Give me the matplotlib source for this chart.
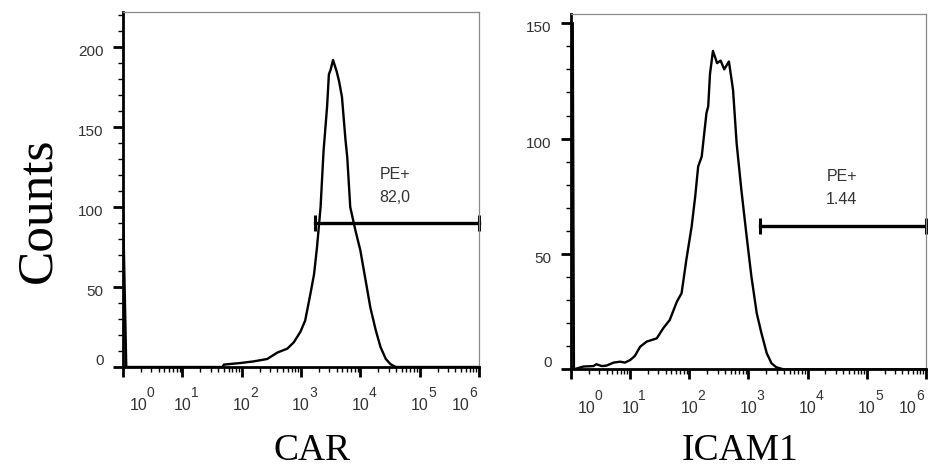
import numpy as np
import matplotlib.pyplot as plt
from matplotlib.ticker import LogLocator, MultipleLocator, NullFormatter

plt.rcParams['font.family'] = ['Liberation Sans', 'DejaVu Sans']

# histogram traces, x as log10 of PE intensity
car_log = [0.0, 0.055, 1.68, 1.70, 1.98, 2.20, 2.43, 2.60, 2.77, 2.88, 2.99, 3.07,
           3.16, 3.22, 3.27, 3.33, 3.38, 3.44, 3.47, 3.50, 3.54, 3.60, 3.64, 3.69,
           3.75, 3.78, 3.83, 3.92, 4.00, 4.09, 4.17, 4.26, 4.34, 4.43, 4.51, 4.60, 6.0]
car_counts = [100, 0, 0, 1.5, 2.5, 3.5, 5, 9, 11.5, 15.5, 22, 29,
              46, 58, 75, 100, 135, 163, 183, 186, 192, 185, 179, 169,
              142, 131, 100, 85, 73, 54, 37, 23, 12.5, 5, 1.7, 0, 0]

icam_log = [0.03, 0.05, 0.21, 0.38, 0.43, 0.52, 0.60, 0.72, 0.83, 0.91, 1.00, 1.08,
            1.17, 1.28, 1.45, 1.56, 1.67, 1.79, 1.87, 1.95, 2.04, 2.10, 2.15, 2.21,
            2.29, 2.32, 2.35, 2.40, 2.47, 2.53, 2.59, 2.67, 2.74, 2.80, 2.88, 2.97,
            3.05, 3.14, 3.22, 3.31, 3.39, 3.47, 3.59, 6.0]
icam_counts = [150, 0, 1.2, 1.4, 2.2, 1.4, 1.6, 2.9, 3.3, 2.9, 4.0, 5.8,
               9.8, 12, 13.4, 17.8, 21.4, 29.3, 33, 47.4, 61.9, 74.9, 87.9, 92.2,
               111, 114, 128, 138, 132.7, 133.8, 130, 133.4, 121, 98, 77.8, 57.5,
               40.2, 24.3, 15.6, 6.9, 2.6, 0.9, 0, 0]

# gates
car_gate_start, car_gate_y, car_gate_pct = 3.24, 90, "82,0"
icam_gate_start, icam_gate_y, icam_gate_pct = 3.19, 62, "1.44"

car_yticks = [0, 50, 100, 150, 200]
icam_yticks = [0, 50, 100, 150]
decades = [0, 1, 2, 3, 4, 5, 6]
decade_label_pos = [0.26, 1, 2, 3, 4, 5, 5.69]

fig = plt.figure(figsize=(9.29, 4.68), dpi=100)
ax1 = fig.add_axes([0.1324, 0.2158, 0.3832, 0.7585])
ax2 = fig.add_axes([0.6146, 0.2109, 0.3821, 0.7592])


def draw_panel(ax, log_x, counts, ymax, yticks, gate_start, gate_y, gate_pct, text_y):
    ax.plot(10 ** np.array(log_x), counts, color='black', lw=1.7,
            solid_joinstyle='round')

    ax.set_xscale('log')
    ax.set_xlim(1, 1e6)
    ax.set_ylim(0, ymax)

    ax.xaxis.set_major_locator(LogLocator(base=10, numticks=10))
    ax.xaxis.set_minor_locator(LogLocator(base=10, subs=np.arange(2, 10), numticks=100))
    ax.xaxis.set_major_formatter(NullFormatter())
    ax.xaxis.set_minor_formatter(NullFormatter())
    ax.set_yticks(yticks, labels=[])
    ax.yaxis.set_minor_locator(MultipleLocator(10))

    ax.tick_params(which='major', length=7, width=2, color='black', direction='out')
    ax.tick_params(which='minor', length=3.5, width=1, color='black', direction='out')

    for side in ('left', 'bottom'):
        ax.spines[side].set_linewidth(2)
        ax.spines[side].set_color('black')
    for side in ('top', 'right'):
        ax.spines[side].set_linewidth(0.9)
        ax.spines[side].set_color('#8a8a8a')

    # y labels sit a bit off their ticks, as in the FlowJo export
    for v in yticks:
        dy = 4.3 if v == 0 else -3.6
        ax.annotate(str(v), xy=(0, v), xycoords=('axes fraction', 'data'),
                    xytext=(-14, dy), textcoords='offset points',
                    ha='right', va='center', fontsize=11, color='#333333')

    for k, p in zip(decades, decade_label_pos):
        ax.annotate("10", xy=(10 ** p, 0), xycoords=('data', 'axes fraction'),
                    xytext=(0, -28), textcoords='offset points',
                    ha='center', va='center', fontsize=11.5, color='#333333')
        ax.annotate(str(k), xy=(10 ** p, 0), xycoords=('data', 'axes fraction'),
                    xytext=(6, -19), textcoords='offset points',
                    ha='left', va='center', fontsize=10, color='#333333')

    ax.plot([10 ** gate_start, 1e6], [gate_y, gate_y], color='black', lw=2.4,
            marker='|', ms=12, mew=2.2, clip_on=False)
    ax.text(10 ** 4.58, text_y[0], "PE+", ha='center', va='center',
            fontsize=11.5, color='#333333')
    ax.text(10 ** 4.58, text_y[1], gate_pct, ha='center', va='center',
            fontsize=11.5, color='#333333')


draw_panel(ax1, car_log, car_counts, 222, car_yticks,
           car_gate_start, car_gate_y, car_gate_pct, (120.6, 106))
draw_panel(ax2, icam_log, icam_counts, 154, icam_yticks,
           icam_gate_start, icam_gate_y, icam_gate_pct, (83.5, 73.7))

fig.text(312 / 929, 1 - 460 / 468, "CAR", family='Liberation Serif', fontsize=27,
         ha='center', va='baseline')
fig.text(740 / 929, 1 - 460 / 468, "ICAM1", family='Liberation Serif', fontsize=27,
         ha='center', va='baseline')
fig.text(38 / 929, 1 - 210 / 468, "Counts", family='Liberation Serif', fontsize=37,
         rotation=90, ha='center', va='center')

fig.savefig("out.png", dpi=100)
